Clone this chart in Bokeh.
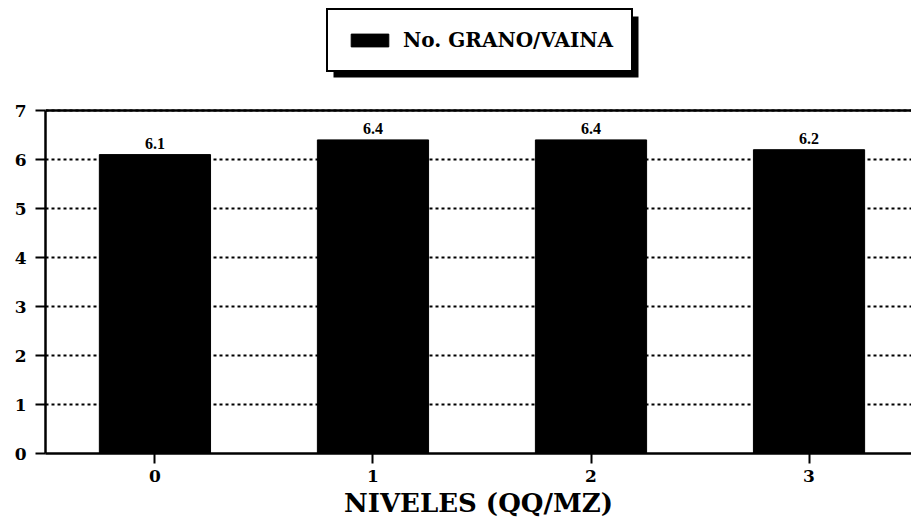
from bokeh.plotting import figure
from bokeh.models import ColumnDataSource, Legend, LegendItem, LabelSet, Span, BoxAnnotation, FixedTicker
from bokeh.embed import file_html
from bokeh.resources import INLINE

niveles = [0, 1, 2, 3]
grano_vaina = [6.1, 6.4, 6.4, 6.2]
labels = ["6.1", "6.4", "6.4", "6.2"]
y_ticks = [0, 1, 2, 3, 4, 5, 6, 7]

FONT = "DejaVu Serif"

src = ColumnDataSource(dict(x=niveles, y=grano_vaina, lab=labels))

# frame spans canvas y 0..453; value 7 sits at y=110 (49 px per unit)
p = figure(width=911, height=528, output_backend="svg", toolbar_location=None,
           x_range=(-0.502, 3.47), y_range=(0, 453 / 49.0),
           min_border_left=45, min_border_right=0, min_border_top=0, min_border_bottom=75)
p.outline_line_color = None
p.background_fill_color = "white"

r = p.vbar(x="x", top="y", width=0.51, source=src, fill_color="black", line_color="black")

p.add_layout(LabelSet(x="x", y="y", text="lab", source=src, text_align="center",
                      text_baseline="bottom", y_offset=6, text_font=FONT,
                      text_font_style="bold", text_font_size="16px", text_color="black"))

# axes
p.xaxis.ticker = FixedTicker(ticks=niveles)
p.yaxis.ticker = FixedTicker(ticks=y_ticks)
p.yaxis.bounds = (0, 7)
for ax in (p.xaxis[0], p.yaxis[0]):
    ax.axis_line_width = 2.5
    ax.axis_line_color = "black"
    ax.major_tick_line_width = 2
    ax.major_tick_line_color = "black"
    ax.major_tick_in = 0
    ax.major_tick_out = 10
    ax.minor_tick_line_color = None
    ax.major_label_text_font = FONT
    ax.major_label_text_font_style = "bold"
    ax.major_label_text_font_size = "17px"
    ax.major_label_text_color = "black"
p.yaxis.major_label_standoff = 9
p.xaxis.major_label_standoff = 6
p.xaxis.axis_label = "NIVELES (QQ/MZ)"
p.xaxis.axis_label_text_font = FONT
p.xaxis.axis_label_text_font_style = "bold"
p.xaxis.axis_label_text_font_size = "26px"
p.xaxis.axis_label_text_color = "black"
p.xaxis.axis_label_standoff = 3

p.xgrid.grid_line_color = None
p.ygrid.grid_line_color = "black"
p.ygrid.grid_line_width = 1.8
p.ygrid.grid_line_dash = "3 3"

p.add_layout(Span(location=7, dimension="width", line_color="black", line_width=2.5))

# legend with drop shadow
shadow = BoxAnnotation(left=333, right=638, top=16, bottom=77,
                       left_units="canvas", right_units="canvas",
                       top_units="canvas", bottom_units="canvas",
                       fill_color="black", fill_alpha=1.0, line_color=None)
p.add_layout(shadow)
leg = Legend(items=[LegendItem(label="No. GRANO/VAINA", renderers=[r])],
             location=(281, 381), orientation="horizontal",
             border_line_color="black", border_line_width=2, border_line_alpha=1.0,
             background_fill_color="white", background_fill_alpha=1.0,
             padding=18, glyph_width=47, glyph_height=16, label_standoff=10,
             label_height=19,
             label_text_font=FONT, label_text_font_style="bold",
             label_text_font_size="20px", label_text_color="black")
p.add_layout(leg, "center")

open("out.html", "w").write(file_html(p, INLINE))
